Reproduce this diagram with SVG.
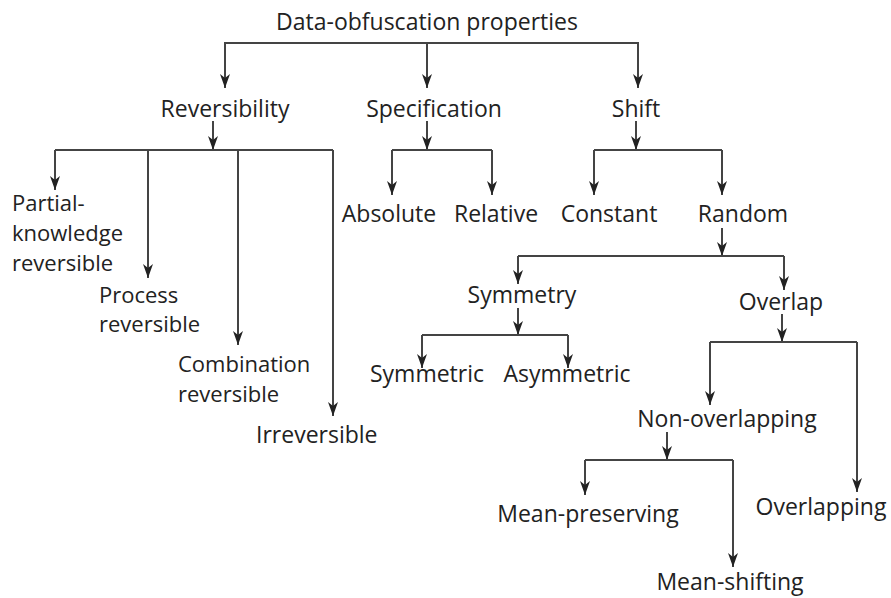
<svg xmlns="http://www.w3.org/2000/svg" width="891" height="598" viewBox="0 0 891 598">
<defs>
<marker id="ah" viewBox="0 -5 14 10" refX="14" refY="0" markerWidth="14" markerHeight="10" markerUnits="userSpaceOnUse" orient="auto">
<path d="M0,-5 L14,0 L0,5 L4,0 z" fill="#222"/>
</marker>
<style>
text{font-family:"Open Sans","Noto Sans",sans-serif;font-size:23px;fill:#222}
.s{font-size:22px}
.m{text-anchor:middle}
.c{fill:none;stroke:#444;stroke-width:2}
.a{marker-end:url(#ah)}
</style>
</defs>
<rect width="891" height="598" fill="#fff"/>
<g id="connectors">
<path class="c" d="M225,88 V43 H638 V88"/>
<path class="c a" d="M225,43 V88"/>
<path class="c a" d="M427,43 V88"/>
<path class="c a" d="M638,43 V88"/>
<path class="c a" d="M213,121 V150"/>
<path class="c" d="M55,150 H333"/>
<path class="c a" d="M55,150 V190"/>
<path class="c a" d="M148,150 V278"/>
<path class="c a" d="M238,150 V345"/>
<path class="c a" d="M333,150 V416"/>
<path class="c a" d="M427,121 V150"/>
<path class="c" d="M392,150 H492"/>
<path class="c a" d="M392,150 V195"/>
<path class="c a" d="M492,150 V195"/>
<path class="c a" d="M636,121 V150"/>
<path class="c" d="M594,150 H722"/>
<path class="c a" d="M594,150 V195"/>
<path class="c a" d="M722,150 V195"/>
<path class="c a" d="M722,228 V256"/>
<path class="c" d="M518,256 H784"/>
<path class="c a" d="M518,256 V284"/>
<path class="c a" d="M784,256 V290"/>
<path class="c a" d="M518,308 V335"/>
<path class="c" d="M422,335 H568"/>
<path class="c a" d="M422,335 V368"/>
<path class="c a" d="M568,335 V368"/>
<path class="c a" d="M782,314 V342"/>
<path class="c" d="M710,342 H857"/>
<path class="c a" d="M710,342 V405"/>
<path class="c a" d="M857,342 V492"/>
<path class="c a" d="M667,432 V460"/>
<path class="c" d="M585,460 H733"/>
<path class="c a" d="M585,460 V495"/>
<path class="c a" d="M733,460 V567"/>
</g>
<g id="root"><text class="m" x="427" y="30">Data-obfuscation properties</text></g>
<g id="reversibility"><text class="m" x="225" y="117">Reversibility</text></g>
<g id="specification"><text class="m" x="434" y="117">Specification</text></g>
<g id="shift"><text class="m" x="636" y="117">Shift</text></g>
<g id="partial"><text class="s" x="12" y="211">Partial-</text><text class="s" x="12" y="241">knowledge</text><text class="s" x="12" y="271">reversible</text></g>
<g id="process"><text class="s" x="99" y="303">Process</text><text class="s" x="99" y="332">reversible</text></g>
<g id="combination"><text class="s" x="178" y="372">Combination</text><text class="s" x="178" y="402">reversible</text></g>
<g id="irreversible"><text x="256" y="443">Irreversible</text></g>
<g id="absolute"><text class="m" x="389" y="222">Absolute</text></g>
<g id="relative"><text class="m" x="496" y="222">Relative</text></g>
<g id="constant"><text class="m" x="609" y="222">Constant</text></g>
<g id="random"><text class="m" x="743" y="222">Random</text></g>
<g id="symmetry"><text class="m" x="522" y="303">Symmetry</text></g>
<g id="overlap"><text class="m" x="781" y="310">Overlap</text></g>
<g id="symmetric"><text class="m" x="427" y="382">Symmetric</text></g>
<g id="asymmetric"><text class="m" x="567" y="382">Asymmetric</text></g>
<g id="nonoverlapping"><text class="m" x="727" y="427">Non-overlapping</text></g>
<g id="meanpreserving"><text class="m" x="588" y="522">Mean-preserving</text></g>
<g id="overlapping"><text class="m" x="821" y="515">Overlapping</text></g>
<g id="meanshifting"><text class="m" x="730" y="590">Mean-shifting</text></g>
</svg>
